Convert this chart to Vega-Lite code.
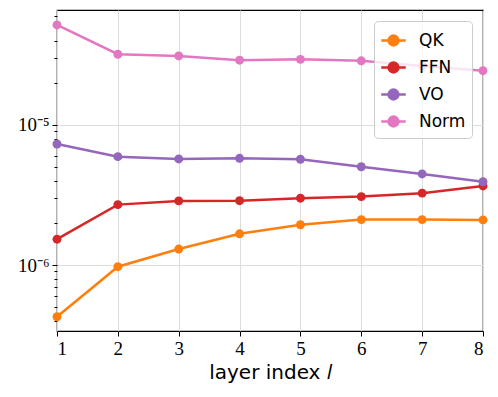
{
  "$schema": "https://vega.github.io/schema/vega-lite/v6.json",
  "width": 426,
  "height": 321,
  "autosize": "none",
  "padding": {"left": 57, "top": 10, "right": 15, "bottom": 66},
  "background": "white",
  "config": {
    "view": {"stroke": "black", "strokeWidth": 1.2},
    "axis": {"domain": false}
  },
  "data": {
    "values": [
      {"layer": 1, "series": "QK", "value": 4.27e-7},
      {"layer": 2, "series": "QK", "value": 9.73e-7},
      {"layer": 3, "series": "QK", "value": 1.30e-6},
      {"layer": 4, "series": "QK", "value": 1.67e-6},
      {"layer": 5, "series": "QK", "value": 1.94e-6},
      {"layer": 6, "series": "QK", "value": 2.11e-6},
      {"layer": 7, "series": "QK", "value": 2.11e-6},
      {"layer": 8, "series": "QK", "value": 2.10e-6},
      {"layer": 1, "series": "FFN", "value": 1.53e-6},
      {"layer": 2, "series": "FFN", "value": 2.70e-6},
      {"layer": 3, "series": "FFN", "value": 2.87e-6},
      {"layer": 4, "series": "FFN", "value": 2.88e-6},
      {"layer": 5, "series": "FFN", "value": 3.00e-6},
      {"layer": 6, "series": "FFN", "value": 3.08e-6},
      {"layer": 7, "series": "FFN", "value": 3.26e-6},
      {"layer": 8, "series": "FFN", "value": 3.67e-6},
      {"layer": 1, "series": "VO", "value": 7.31e-6},
      {"layer": 2, "series": "VO", "value": 5.94e-6},
      {"layer": 3, "series": "VO", "value": 5.72e-6},
      {"layer": 4, "series": "VO", "value": 5.78e-6},
      {"layer": 5, "series": "VO", "value": 5.69e-6},
      {"layer": 6, "series": "VO", "value": 5.03e-6},
      {"layer": 7, "series": "VO", "value": 4.47e-6},
      {"layer": 8, "series": "VO", "value": 3.93e-6},
      {"layer": 1, "series": "Norm", "value": 5.18e-5},
      {"layer": 2, "series": "Norm", "value": 3.20e-5},
      {"layer": 3, "series": "Norm", "value": 3.11e-5},
      {"layer": 4, "series": "Norm", "value": 2.90e-5},
      {"layer": 5, "series": "Norm", "value": 2.94e-5},
      {"layer": 6, "series": "Norm", "value": 2.87e-5},
      {"layer": 7, "series": "Norm", "value": 2.64e-5},
      {"layer": 8, "series": "Norm", "value": 2.44e-5}
    ]
  },
  "encoding": {
    "x": {
      "field": "layer", "type": "quantitative",
      "scale": {"domain": [1, 8], "nice": false, "zero": false},
      "axis": {
        "values": [1, 2, 3, 4, 5, 6, 7, 8],
        "format": "d",
        "title": "layer index 𝑙",
        "titleFont": "DejaVu Sans", "titleFontSize": 20, "titleFontWeight": "normal", "titleColor": "black",
        "titlePadding": 4,
        "labelFont": "Liberation Serif", "labelFontSize": 19, "labelColor": "black", "labelPadding": 3,
        "tickColor": "black", "tickSize": 5, "tickWidth": 1,
        "gridColor": "#dddddd", "gridWidth": 1
      }
    },
    "y": {
      "field": "value", "type": "quantitative",
      "scale": {"type": "log", "domain": [3.38e-7, 6.62e-5], "nice": false},
      "axis": {
        "title": null,
        "values": [4e-7, 5e-7, 6e-7, 7e-7, 8e-7, 9e-7, 1e-6, 2e-6, 3e-6, 4e-6, 5e-6, 6e-6, 7e-6, 8e-6, 9e-6, 1e-5, 2e-5, 3e-5, 4e-5, 5e-5, 6e-5],
        "labelExpr": "abs(datum.value - 1e-5) < 1e-9 ? '10⁻⁵' : (abs(datum.value - 1e-6) < 1e-10 ? '10⁻⁶' : '')",
        "labelFont": "Liberation Serif", "labelFontSize": 19, "labelColor": "black", "labelPadding": 3,
        "tickColor": "black", "tickWidth": 1,
        "tickSize": {"condition": {"test": "abs(datum.value - 1e-5) < 1e-9 || abs(datum.value - 1e-6) < 1e-10", "value": 5}, "value": 3},
        "gridColor": "#dddddd", "gridWidth": 1,
        "gridOpacity": {"condition": {"test": "abs(datum.value - 1e-5) < 1e-9 || abs(datum.value - 1e-6) < 1e-10", "value": 1}, "value": 0}
      }
    },
    "color": {
      "field": "series", "type": "nominal",
      "scale": {"domain": ["QK", "FFN", "VO", "Norm"], "range": ["#ff7f0e", "#d62728", "#9467bd", "#e377c2"]},
      "legend": {
        "title": null,
        "orient": "top-right",
        "offset": 11,
        "fillColor": "rgba(255,255,255,0.8)",
        "strokeColor": "#cccccc",
        "cornerRadius": 4,
        "padding": 6,
        "labelFont": "DejaVu Sans", "labelFontSize": 17, "labelColor": "black",
        "symbolType": "M-1,0L1,0M-0.4,0A0.4,0.4 0 1,0 0.4,0A0.4,0.4 0 1,0 -0.4,0Z",
        "symbolSize": 600,
        "symbolStrokeWidth": 2.5,
        "symbolOpacity": 1,
        "rowPadding": 3,
        "labelOffset": 12
      }
    },
    "order": {"field": "layer"}
  },
  "layer": [
    {"mark": {"type": "line", "strokeWidth": 2.5}},
    {"mark": {"type": "circle", "size": 80, "opacity": 1}}
  ]
}
